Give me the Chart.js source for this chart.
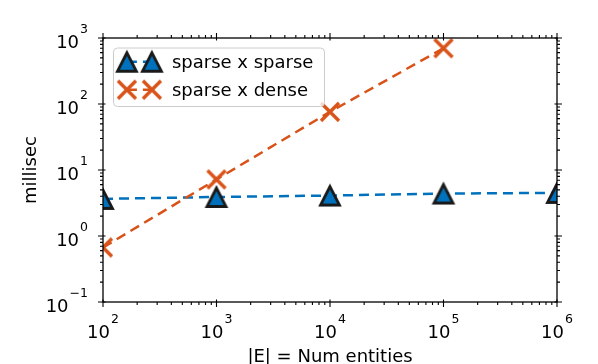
<!DOCTYPE html>
<html><head><meta charset="utf-8">
<script src="https://cdn.jsdelivr.net/npm/chart.js@4/dist/chart.umd.min.js"></script>
<style>html,body{margin:0;padding:0;background:#fff}#wrap{width:598px;height:364px;position:relative}</style>
</head><body><div id="wrap"><canvas id="c"></canvas></div>
<script>
const numEntities = [1e2, 1e3, 1e4, 1e5, 1e6];
const sparseSparse = [3.65, 3.9, 4.1, 4.4, 4.5];
const sparseDense = [0.67, 7.2, 76, 700];
const xTickExps = [2, 3, 4, 5, 6];
const yTickExps = [-1, 0, 1, 2, 3];
const seriesLabels = ['sparse x sparse', 'sparse x dense'];
const xTitle = '|E| = Num entities';
const yTitle = 'millisec';

const BLUE = '#0072BD', ORANGE = '#D95319';
const FONT = '"DejaVu Sans", sans-serif';

function makeTriangle() {
  const c = document.createElement('canvas'); c.width = 28; c.height = 28;
  const g = c.getContext('2d');
  g.beginPath(); g.moveTo(14, 5); g.lineTo(4.5, 23.5); g.lineTo(23.5, 23.5); g.closePath();
  g.fillStyle = BLUE; g.fill();
  g.lineWidth = 2.8; g.lineJoin = 'miter'; g.strokeStyle = '#1a1a1a'; g.stroke();
  return c;
}
function makeX() {
  const c = document.createElement('canvas'); c.width = 28; c.height = 28;
  const g = c.getContext('2d');
  g.strokeStyle = ORANGE; g.lineWidth = 3.4; g.lineCap = 'butt';
  g.beginPath(); g.moveTo(5, 5); g.lineTo(23, 23); g.moveTo(23, 5); g.lineTo(5, 23); g.stroke();
  return c;
}
const triImg = makeTriangle();
const xImg = makeX();

function toPts(xs, ys) { return ys.map((v, i) => ({x: xs[i], y: v})); }

function drawPow(ctx, exp, x, y, align) {
  const base = '10', ex = exp < 0 ? '\u2212' + Math.abs(exp) : String(exp);
  ctx.font = '18px ' + FONT; const wb = ctx.measureText(base).width;
  ctx.font = '12.5px ' + FONT; const we = ctx.measureText(ex).width;
  const total = wb + 1 + we;
  const start = align === 'center' ? x - total / 2 : x - total;
  ctx.textAlign = 'left'; ctx.textBaseline = 'alphabetic'; ctx.fillStyle = '#000';
  ctx.font = '18px ' + FONT; ctx.fillText(base, start, y);
  ctx.font = '12.5px ' + FONT; ctx.fillText(ex, start + wb + 1, y - 15);
}

const clipPlugin = {
  id: 'clipToArea',
  beforeDatasetsDraw(chart) {
    const a = chart.chartArea, ctx = chart.ctx;
    ctx.save(); ctx.beginPath(); ctx.rect(a.left, a.top, a.right - a.left, a.bottom - a.top); ctx.clip();
  },
  afterDatasetsDraw(chart) { chart.ctx.restore(); }
};

const axesPlugin = {
  id: 'mplAxes',
  afterDatasetsDraw(chart) {
    const ctx = chart.ctx, a = chart.chartArea, xs = chart.scales.x, ys = chart.scales.y;
    ctx.save();
    ctx.strokeStyle = '#000'; ctx.lineWidth = 1.3;
    ctx.strokeRect(a.left, a.top, a.right - a.left, a.bottom - a.top);
    ctx.lineWidth = 1.1;
    ctx.beginPath();
    for (let i = 0; i < xTickExps.length; i++) {
      const e = xTickExps[i];
      const p = xs.getPixelForValue(Math.pow(10, e));
      ctx.moveTo(p, a.bottom - 2.5); ctx.lineTo(p, a.bottom + 5);
      ctx.moveTo(p, a.top + 2.5); ctx.lineTo(p, a.top - 5);
      if (i < xTickExps.length - 1) {
        for (let m = 2; m <= 9; m++) {
          const q = xs.getPixelForValue(m * Math.pow(10, e));
          ctx.moveTo(q, a.bottom); ctx.lineTo(q, a.bottom + 3);
          ctx.moveTo(q, a.top); ctx.lineTo(q, a.top - 3);
        }
      }
    }
    for (let i = 0; i < yTickExps.length; i++) {
      const e = yTickExps[i];
      const p = ys.getPixelForValue(Math.pow(10, e));
      ctx.moveTo(a.left + 2.5, p); ctx.lineTo(a.left - 5, p);
      ctx.moveTo(a.right - 2.5, p); ctx.lineTo(a.right + 5, p);
      if (i < yTickExps.length - 1) {
        for (let m = 2; m <= 9; m++) {
          const q = ys.getPixelForValue(m * Math.pow(10, e));
          ctx.moveTo(a.left, q); ctx.lineTo(a.left - 3, q);
          ctx.moveTo(a.right, q); ctx.lineTo(a.right + 3, q);
        }
      }
    }
    ctx.stroke();
    xTickExps.forEach(e => drawPow(ctx, e, xs.getPixelForValue(Math.pow(10, e)), a.bottom + 36, 'center'));
    yTickExps.forEach(e => drawPow(ctx, e, a.left - 15, ys.getPixelForValue(Math.pow(10, e)) + 9.5, 'right'));
    ctx.fillStyle = '#000'; ctx.font = '18px ' + FONT;
    ctx.textAlign = 'center'; ctx.textBaseline = 'alphabetic';
    ctx.fillText(xTitle, (a.left + a.right) / 2, 362);
    ctx.save(); ctx.translate(36, (a.top + a.bottom) / 2); ctx.rotate(-Math.PI / 2);
    ctx.fillText(yTitle, 0, 0); ctx.restore();

    const lx = a.left + 10.5, ly = a.top + 10, lw = 211, lh = 58.5;
    ctx.beginPath();
    ctx.roundRect(lx, ly, lw, lh, 4);
    ctx.fillStyle = 'rgba(255,255,255,0.8)'; ctx.fill();
    ctx.strokeStyle = '#cccccc'; ctx.lineWidth = 1; ctx.stroke();
    chart.data.datasets.forEach((ds, i) => {
      const rowY = ly + 13.7 + i * 28;
      const m1 = lx + 13.4, m2 = lx + 38.4;
      ctx.save();
      ctx.strokeStyle = ds.borderColor; ctx.lineWidth = ds.borderWidth; ctx.setLineDash(ds.borderDash);
      ctx.beginPath(); ctx.moveTo(m1, rowY); ctx.lineTo(m2, rowY); ctx.stroke();
      ctx.restore();
      const img = ds.pointStyle;
      ctx.drawImage(img, m1 - img.width / 2, rowY - img.height / 2);
      ctx.drawImage(img, m2 - img.width / 2, rowY - img.height / 2);
      ctx.fillStyle = '#000'; ctx.font = '18px ' + FONT; ctx.textAlign = 'left'; ctx.textBaseline = 'alphabetic';
      ctx.fillText(ds.label, lx + 58.4, rowY + 6.5);
    });
    ctx.restore();
  }
};

new Chart(document.getElementById('c'), {
  type: 'line',
  data: {
    datasets: [
      {label: seriesLabels[0], data: toPts(numEntities, sparseSparse), borderColor: BLUE, backgroundColor: BLUE,
       borderWidth: 2.5, borderDash: [10, 6], pointStyle: triImg, pointRadius: 12, fill: false, tension: 0, clip: 0, order: 2},
      {label: seriesLabels[1], data: toPts(numEntities, sparseDense), borderColor: ORANGE, backgroundColor: ORANGE,
       borderWidth: 2.5, borderDash: [10, 6], pointStyle: xImg, pointRadius: 12, fill: false, tension: 0, clip: 0, order: 1}
    ]
  },
  options: {
    responsive: true, maintainAspectRatio: false, animation: false, devicePixelRatio: 1,
    layout: {padding: {left: 103, right: 41, top: 38, bottom: 62}},
    plugins: {legend: {display: false}, tooltip: {enabled: false}, title: {display: false}},
    scales: {
      x: {type: 'logarithmic', min: 1e2, max: 1e6, display: false},
      y: {type: 'logarithmic', min: 1e-1, max: 1e3, display: false}
    }
  },
  plugins: [clipPlugin, axesPlugin]
});
</script>
</body></html>
